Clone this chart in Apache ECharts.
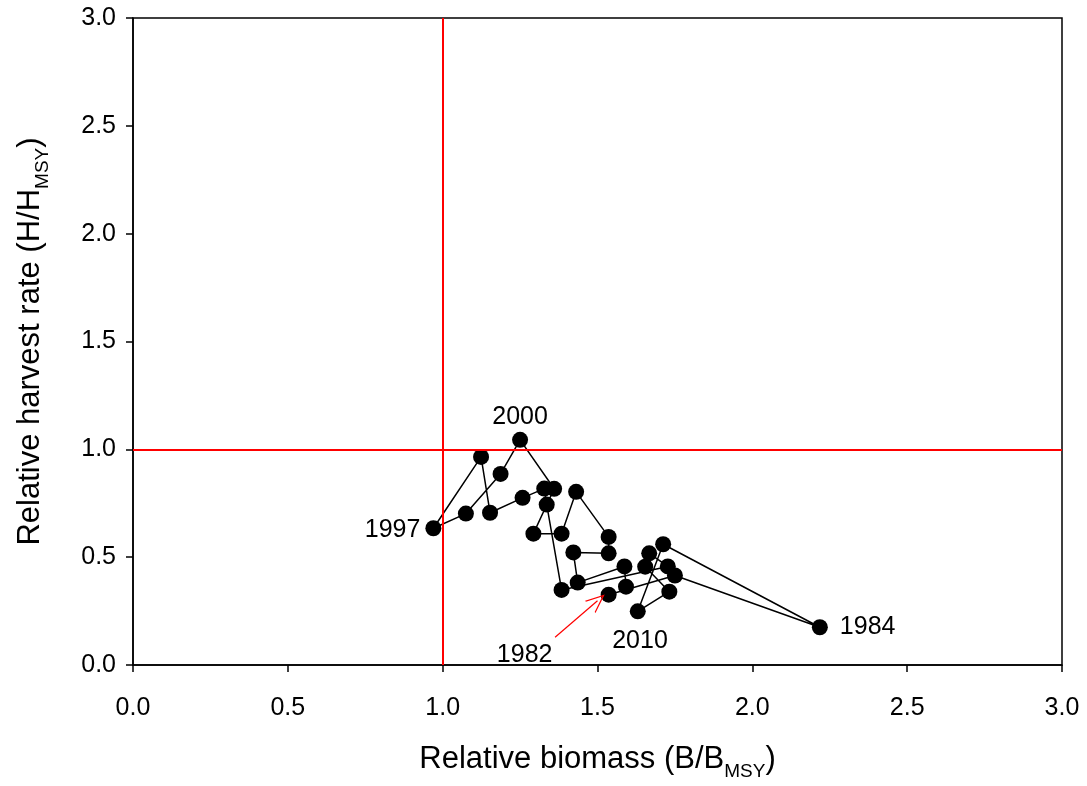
<!DOCTYPE html>
<html>
<head>
<meta charset="utf-8">
<script src="https://cdn.jsdelivr.net/npm/echarts@6/dist/echarts.min.js"></script>
<style>
html,body{margin:0;padding:0;background:#fff;}
#chart{width:1087px;height:786px;}
</style>
</head>
<body>
<div id="chart"></div>
<script>
// Years of the trajectory (in order)
var years = [1982,1983,1984,1985,1986,1987,1988,1989,1990,1991,1992,1993,1994,1995,1996,1997,1998,1999,2000,2001,2002,2003,2004,2005,2006,2007,2008,2009,2010];
// Relative biomass B/Bmsy
var biomass = [1.536,1.750,2.218,1.712,1.630,1.732,1.654,1.667,1.727,1.384,1.336,1.328,1.258,1.153,1.124,0.970,1.075,1.187,1.250,1.360,1.293,1.384,1.431,1.536,1.536,1.422,1.436,1.587,1.592];
// Relative harvest rate H/Hmsy
var harvest = [0.326,0.415,0.175,0.560,0.249,0.340,0.456,0.518,0.457,0.348,0.744,0.818,0.775,0.706,0.965,0.634,0.702,0.886,1.044,0.817,0.609,0.609,0.803,0.594,0.518,0.522,0.382,0.457,0.363];
// Axis ticks
var ticks = [0.0,0.5,1.0,1.5,2.0,2.5,3.0];
// Reference points (MSY)
var refB = 1.0, refH = 1.0;
// Labelled years
var labelledYears = [1982,1984,1997,2000,2010];
// Annotation arrow for 1982 (data units: from, to)
var arrowFrom = [1.363, 0.129];
var arrowTo = [1.500, 0.298];

var FONT = 'Liberation Sans, Arial, sans-serif';
var labelStyles = {
  1984: {position:'right', distance:12},
  1997: {position:'left', distance:5, offset:[0,2]},
  2000: {position:'top', distance:2},
  2010: {position:'inside', offset:[14,54]},
  1982: {position:'inside', offset:[-84,60]}
};

var pts = years.map(function(y,i){
  var item = {value:[biomass[i], harvest[i]]};
  if (labelledYears.indexOf(y) >= 0) {
    var s = labelStyles[y];
    item.label = Object.assign({show:true, formatter:String(y), color:'#000', fontSize:25, fontFamily:FONT}, s);
  }
  return item;
});

var chart = echarts.init(document.getElementById('chart'), null, {renderer:'canvas'});
var nameRich = {
  m:{fontSize:31, fontFamily:FONT, color:'#000', lineHeight:44},
  s:{fontSize:19, fontFamily:FONT, color:'#000', lineHeight:19, verticalAlign:'bottom'}
};
chart.setOption({
  animation:false,
  backgroundColor:'#fff',
  grid:{left:133, right:25, top:18, bottom:118, show:true, borderColor:'#000', borderWidth:1.5, backgroundColor:'transparent'},
  xAxis:{
    type:'value', min:ticks[0], max:ticks[ticks.length-1], interval:0.5,
    name:'{m|Relative biomass (B/B}{s|MSY}{m|)}', nameLocation:'middle', nameGap:72,
    nameTextStyle:{rich:nameRich},
    axisLine:{show:true, onZero:false, lineStyle:{color:'#000', width:1.5}},
    axisTick:{show:true, length:7, lineStyle:{color:'#000', width:1.5}},
    axisLabel:{color:'#000', fontSize:25, fontFamily:FONT, margin:31, formatter:function(v){return v.toFixed(1);}},
    splitLine:{show:false}
  },
  yAxis:{
    type:'value', min:ticks[0], max:ticks[ticks.length-1], interval:0.5,
    name:'{m|Relative harvest rate (H/H}{s|MSY}{m|)}', nameLocation:'middle', nameGap:81,
    nameTextStyle:{rich:nameRich},
    axisLine:{show:true, onZero:false, lineStyle:{color:'#000', width:1.5}},
    axisTick:{show:true, length:7, lineStyle:{color:'#000', width:1.5}},
    axisLabel:{color:'#000', fontSize:25, fontFamily:FONT, margin:17, formatter:function(v){return v.toFixed(1);}},
    splitLine:{show:false}
  },
  series:[
    {
      type:'line', data:[], z:1, silent:true,
      markLine:{
        silent:true, symbol:['none','none'], label:{show:false},
        lineStyle:{color:'#ff0000', width:2, type:'solid'},
        data:[{xAxis:refB},{yAxis:refH}]
      }
    },
    {
      type:'line', z:2, silent:true, data:[],
      markLine:{
        silent:true, label:{show:false},
        symbol:['none','path://M0,0 L10,18 L8.4,18 L0,3 L-8.4,18 L-10,18 Z'], symbolSize:[16,19],
        lineStyle:{color:'#ff0000', width:1.2, type:'solid'},
        itemStyle:{color:'#ff0000'},
        data:[[{coord:arrowFrom},{coord:arrowTo}]]
      }
    },
    {
      type:'line', z:3, data:pts,
      symbol:'circle', symbolSize:16, showAllSymbol:true,
      lineStyle:{color:'#000', width:1.5},
      itemStyle:{color:'#000', borderColor:'#000', borderWidth:0}
    }
  ]
});
</script>
</body>
</html>
